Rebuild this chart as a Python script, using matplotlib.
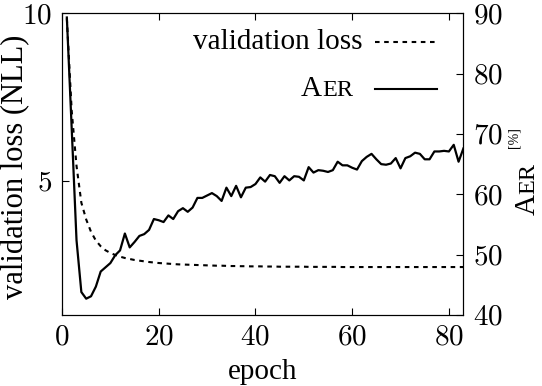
import matplotlib
matplotlib.use("Agg")
import matplotlib.pyplot as plt
from matplotlib.offsetbox import TextArea, DrawingArea, HPacker, VPacker, AnchoredOffsetbox
from matplotlib.lines import Line2D

epochs = list(range(1, 84))
val_loss = [9.85, 7.10, 5.45, 4.35, 3.85, 3.48, 3.22, 3.05, 2.93, 2.85,
            2.79, 2.74, 2.70, 2.67, 2.64, 2.62, 2.60, 2.58, 2.565, 2.55,
            2.54, 2.53, 2.52, 2.51, 2.505, 2.50, 2.495, 2.49, 2.485, 2.48,
            2.475, 2.47, 2.47, 2.465, 2.46, 2.46, 2.455, 2.455, 2.45, 2.45,
            2.45, 2.445, 2.445, 2.445, 2.44, 2.44, 2.44, 2.44, 2.44, 2.44,
            2.435, 2.435, 2.435, 2.435, 2.435, 2.435, 2.435, 2.43, 2.43, 2.43,
            2.43, 2.43, 2.43, 2.43, 2.43, 2.43, 2.43, 2.43, 2.43, 2.43,
            2.43, 2.43, 2.43, 2.43, 2.43, 2.43, 2.43, 2.43, 2.43, 2.43,
            2.43, 2.43, 2.43]
aer = [89.3, 71.0, 52.4, 43.8, 42.7, 43.1, 44.7, 47.2, 47.9, 48.6,
       49.9, 50.7, 53.5, 51.2, 52.1, 53.1, 53.4, 54.1, 55.9, 55.7,
       55.4, 56.5, 55.9, 57.2, 57.7, 57.1, 57.8, 59.4, 59.4, 59.8,
       60.2, 59.7, 58.9, 61.1, 59.7, 61.4, 59.5, 61.1, 61.2, 61.7,
       62.8, 62.1, 63.2, 63.0, 61.9, 63.0, 62.3, 63.0, 62.9, 62.3,
       64.5, 63.6, 64.0, 63.9, 63.7, 64.0, 65.4, 64.8, 64.8, 64.4,
       64.1, 65.5, 66.2, 66.7, 65.8, 65.0, 64.9, 65.1, 66.0, 64.3,
       66.0, 66.3, 66.9, 66.7, 65.8, 65.8, 67.1, 67.1, 67.2, 67.1,
       68.2, 65.4, 67.6]

x_ticks = [0, 20, 40, 60, 80]
loss_ticks = [5, 10]
aer_ticks = [40, 50, 60, 70, 80, 90]

plt.rcParams['font.family'] = ['Liberation Serif', 'DejaVu Serif']
plt.rcParams['mathtext.fontset'] = 'cm'

fig = plt.figure(figsize=(5.42, 3.86), dpi=100)
ax = fig.add_axes([0.1144, 0.184, 0.7406, 0.7816])
ax2 = ax.twinx()

ax.plot(epochs, val_loss, color="black", lw=1.5, ls=(0, (2.2, 2.2)))
ax2.plot(epochs, aer, color="black", lw=1.6)

ax.set_xlim(0, 83)
ax.set_ylim(1, 10)
ax2.set_ylim(40, 90)

ax.set_xticks(x_ticks, [f"${t}$" for t in x_ticks])
ax.set_yticks(loss_ticks, [f"${t}$" for t in loss_ticks])
ax2.set_yticks(aer_ticks, [f"${t}$" for t in aer_ticks])

ax.tick_params(direction="in", length=5, width=0.8, labelsize=21, pad=7, top=True)
ax.tick_params(axis="y", right=False)
ax2.tick_params(direction="in", length=5, width=0.8, labelsize=21, pad=7)
for a in (ax, ax2):
    for s in a.spines.values():
        s.set_linewidth(0.8)

ax.set_xlabel("epoch", fontsize=21, labelpad=6)
ax.set_ylabel("validation loss (NLL)", fontsize=22)
ax.yaxis.set_label_coords(-0.08, 0.49)

# right label: small caps AER with [%] superscript
t_a = fig.text(541 / 542, 1 - 215 / 386, "A", fontsize=21, rotation=90,
               ha="right", va="bottom")
t_er = ax2.annotate("ER", xy=(1, 1), xycoords=t_a, xytext=(-1.0, 0),
                    textcoords="offset points", fontsize=17.5, rotation=90,
                    ha="right", va="bottom")
ax2.annotate("[%]", xy=(0.1, 1), xycoords=t_er, xytext=(0, 11),
             textcoords="offset points", fontsize=10, rotation=90,
             ha="right", va="bottom")

# legend with labels left of handles
def handle(ls):
    da = DrawingArea(44, 10, 0, 0)
    da.add_artist(Line2D([0, 44], [5, 5], color="black", lw=1.5, ls=ls))
    return da

row1 = HPacker(children=[TextArea("validation loss", textprops=dict(fontsize=21)),
                         handle((0, (2.2, 2.2)))], sep=9, align="center", pad=0)
aer_txt = HPacker(children=[TextArea("A", textprops=dict(fontsize=21)),
                            TextArea("ER", textprops=dict(fontsize=17.5))],
                  sep=0, align="baseline", pad=0)
row2 = HPacker(children=[aer_txt, handle("-")], sep=16, align="center", pad=0)
box = VPacker(children=[row1, row2], sep=15, align="right", pad=0)
anchored = AnchoredOffsetbox(loc="upper right", child=box, pad=0, borderpad=0,
                             frameon=False, bbox_to_anchor=(0.933, 0.948),
                             bbox_transform=ax2.transAxes)
ax2.add_artist(anchored)

fig.savefig("out.png", dpi=100)
